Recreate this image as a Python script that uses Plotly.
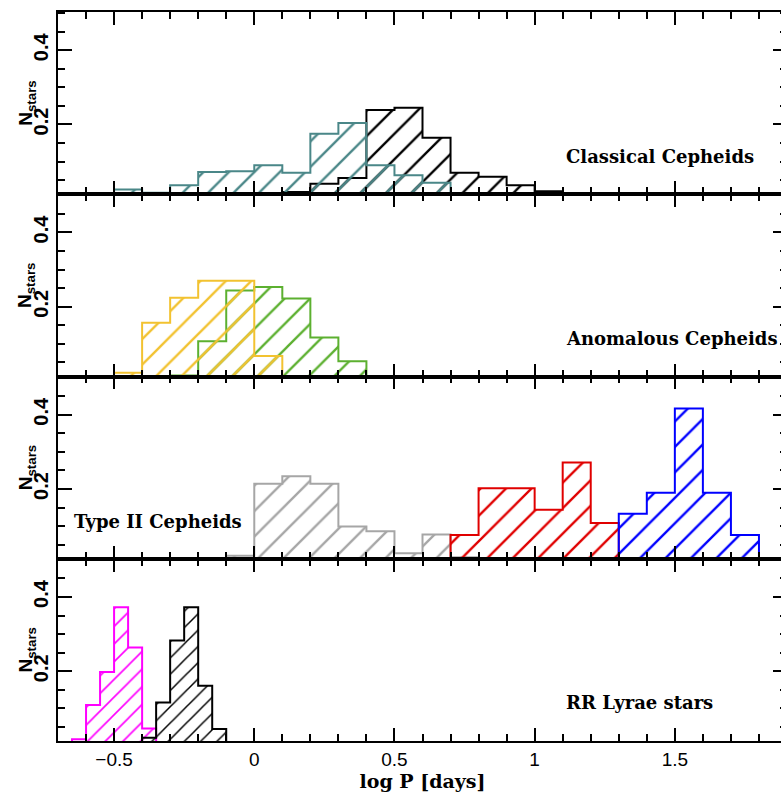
import plotly.graph_objects as go
from plotly.subplots import make_subplots

# ---------------- data (fractions of stars per log P bin) ----------------
BIN_WIDE = 0.1
BIN_RR = 0.05

# Classical Cepheids
cc_black_start = 0.1
cc_black = [0.018, 0.040, 0.056, 0.239, 0.245, 0.164, 0.070, 0.059, 0.036, 0.020, 0.014]
cc_teal_start = -0.6
cc_teal = [0.015, 0.025, 0.016, 0.036, 0.072, 0.074, 0.090, 0.070, 0.175, 0.204, 0.090, 0.063, 0.043]

# Anomalous Cepheids
ac_green_start = -0.3
ac_green = [0.015, 0.107, 0.244, 0.253, 0.222, 0.117, 0.053]
ac_yellow_start = -0.5
ac_yellow = [0.022, 0.157, 0.224, 0.270, 0.270, 0.067]

# Type II Cepheids
t2_gray_start = -0.1
t2_gray = [0.020, 0.214, 0.234, 0.214, 0.099, 0.086, 0.027, 0.077, 0.016]
t2_red_start = 0.7
t2_red = [0.076, 0.202, 0.202, 0.144, 0.271, 0.108]
t2_blue_start = 1.3
t2_blue = [0.133, 0.190, 0.417, 0.190, 0.076]

# RR Lyrae stars
rr_mag_start = -0.65
rr_mag = [0.017, 0.109, 0.198, 0.372, 0.264, 0.046]
rr_black_start = -0.4
rr_black = [0.021, 0.116, 0.283, 0.372, 0.161, 0.044]

panel_labels = ["Classical Cepheids", "Anomalous Cepheids", "Type II Cepheids", "RR Lyrae stars"]
x_range = [-0.7, 1.9]
y_range = [0.012, 0.503]

# ---------------- figure ----------------
fig = make_subplots(rows=4, cols=1, shared_xaxes=True, vertical_spacing=0)


def step_xy(start, width, vals):
    edges = [start + i * width for i in range(len(vals) + 1)]
    xs = [edges[0]] + edges[:-1] + [edges[-1]]
    ys = [0] + list(vals) + [0]
    return xs, ys


def add_hist(row, start, width, vals, color, hatch=18):
    xs, ys = step_xy(start, width, vals)
    fig.add_trace(
        go.Scatter(
            x=xs, y=ys, mode="lines", line=dict(color=color, width=2, shape="hv"),
            fill="tozeroy", fillcolor="rgba(0,0,0,0)",
            fillpattern=dict(shape="/", size=hatch, solidity=0.13, fgcolor=color,
                             bgcolor="rgba(0,0,0,0)", fillmode="replace"),
            showlegend=False, hoverinfo="skip",
        ),
        row=row, col=1,
    )


add_hist(1, cc_black_start, BIN_WIDE, cc_black, "#000000")
add_hist(1, cc_teal_start, BIN_WIDE, cc_teal, "#4a8788")
add_hist(2, ac_green_start, BIN_WIDE, ac_green, "#5cb030")
add_hist(2, ac_yellow_start, BIN_WIDE, ac_yellow, "#f2c230")
add_hist(3, t2_gray_start, BIN_WIDE, t2_gray, "#a6a6a6")
add_hist(3, t2_red_start, BIN_WIDE, t2_red, "#e00000")
add_hist(3, t2_blue_start, BIN_WIDE, t2_blue, "#0000ff")
add_hist(4, rr_mag_start, BIN_RR, rr_mag, "#ff00ff", hatch=12.5)
add_hist(4, rr_black_start, BIN_RR, rr_black, "#000000", hatch=11.5)

sans = "Liberation Sans, Arial, sans-serif"
serif = "DejaVu Serif, serif"

for r in range(1, 5):
    fig.update_xaxes(
        row=r, col=1, range=x_range, showline=True, linewidth=1.8, linecolor="black",
        mirror="allticks", ticks="inside", ticklen=13, tickwidth=2, tickcolor="black",
        tick0=0, dtick=0.5, showgrid=False, zeroline=False,
        minor=dict(ticks="inside", dtick=0.1, tick0=0, ticklen=7, tickwidth=1.5,
                   tickcolor="black", showgrid=False),
        tickfont=dict(family=sans, size=19, color="black"),
    )
    fig.update_yaxes(
        row=r, col=1, range=y_range, showline=True, linewidth=1.8, linecolor="black",
        mirror="allticks", ticks="inside", ticklen=14, tickwidth=2, tickcolor="black",
        tick0=0, dtick=0.2, showgrid=False, zeroline=False, tickangle=-90,
        minor=dict(ticks="inside", dtick=0.05, tick0=0, ticklen=7, tickwidth=1.5,
                   tickcolor="black", showgrid=False),
        tickfont=dict(family=sans, size=20, color="black", weight="bold"),
    )

fig.update_xaxes(row=4, col=1, title=dict(text="log P [days]",
                 font=dict(family=serif, size=19, color="black", weight="bold"), standoff=6))

label_pos = [(1.103, 0.115, "left"), (1.103, 0.115, "left"), (-0.651, 0.112, "left"), (1.103, 0.115, "left")]
for i, (lbl, (lx, ly, anc)) in enumerate(zip(panel_labels, label_pos)):
    ax = "" if i == 0 else str(i + 1)
    fig.add_annotation(x=lx, y=ly, xref="x" + ax, yref="y" + ax, text=lbl, showarrow=False,
                       xanchor=anc, yanchor="middle",
                       font=dict(family=serif, size=18, color="black", weight="bold"))
    fig.add_annotation(x=-0.043, y=0.5, xref="paper", yref="y" + ax + " domain",
                       text="<b>N<sub>stars</sub></b>", textangle=-90, showarrow=False,
                       xanchor="center", yanchor="middle",
                       font=dict(family=sans, size=19, color="black"))

fig.update_layout(
    width=795, height=799,
    margin=dict(l=58, r=6, t=12, b=58),
    paper_bgcolor="white", plot_bgcolor="white",
    showlegend=False,
)

fig.write_html(
    "out.html",
    config={"displayModeBar": False},
    post_script="document.body.style.margin='0';document.body.style.overflow='hidden';"
                "document.documentElement.style.overflow='hidden';",
)
